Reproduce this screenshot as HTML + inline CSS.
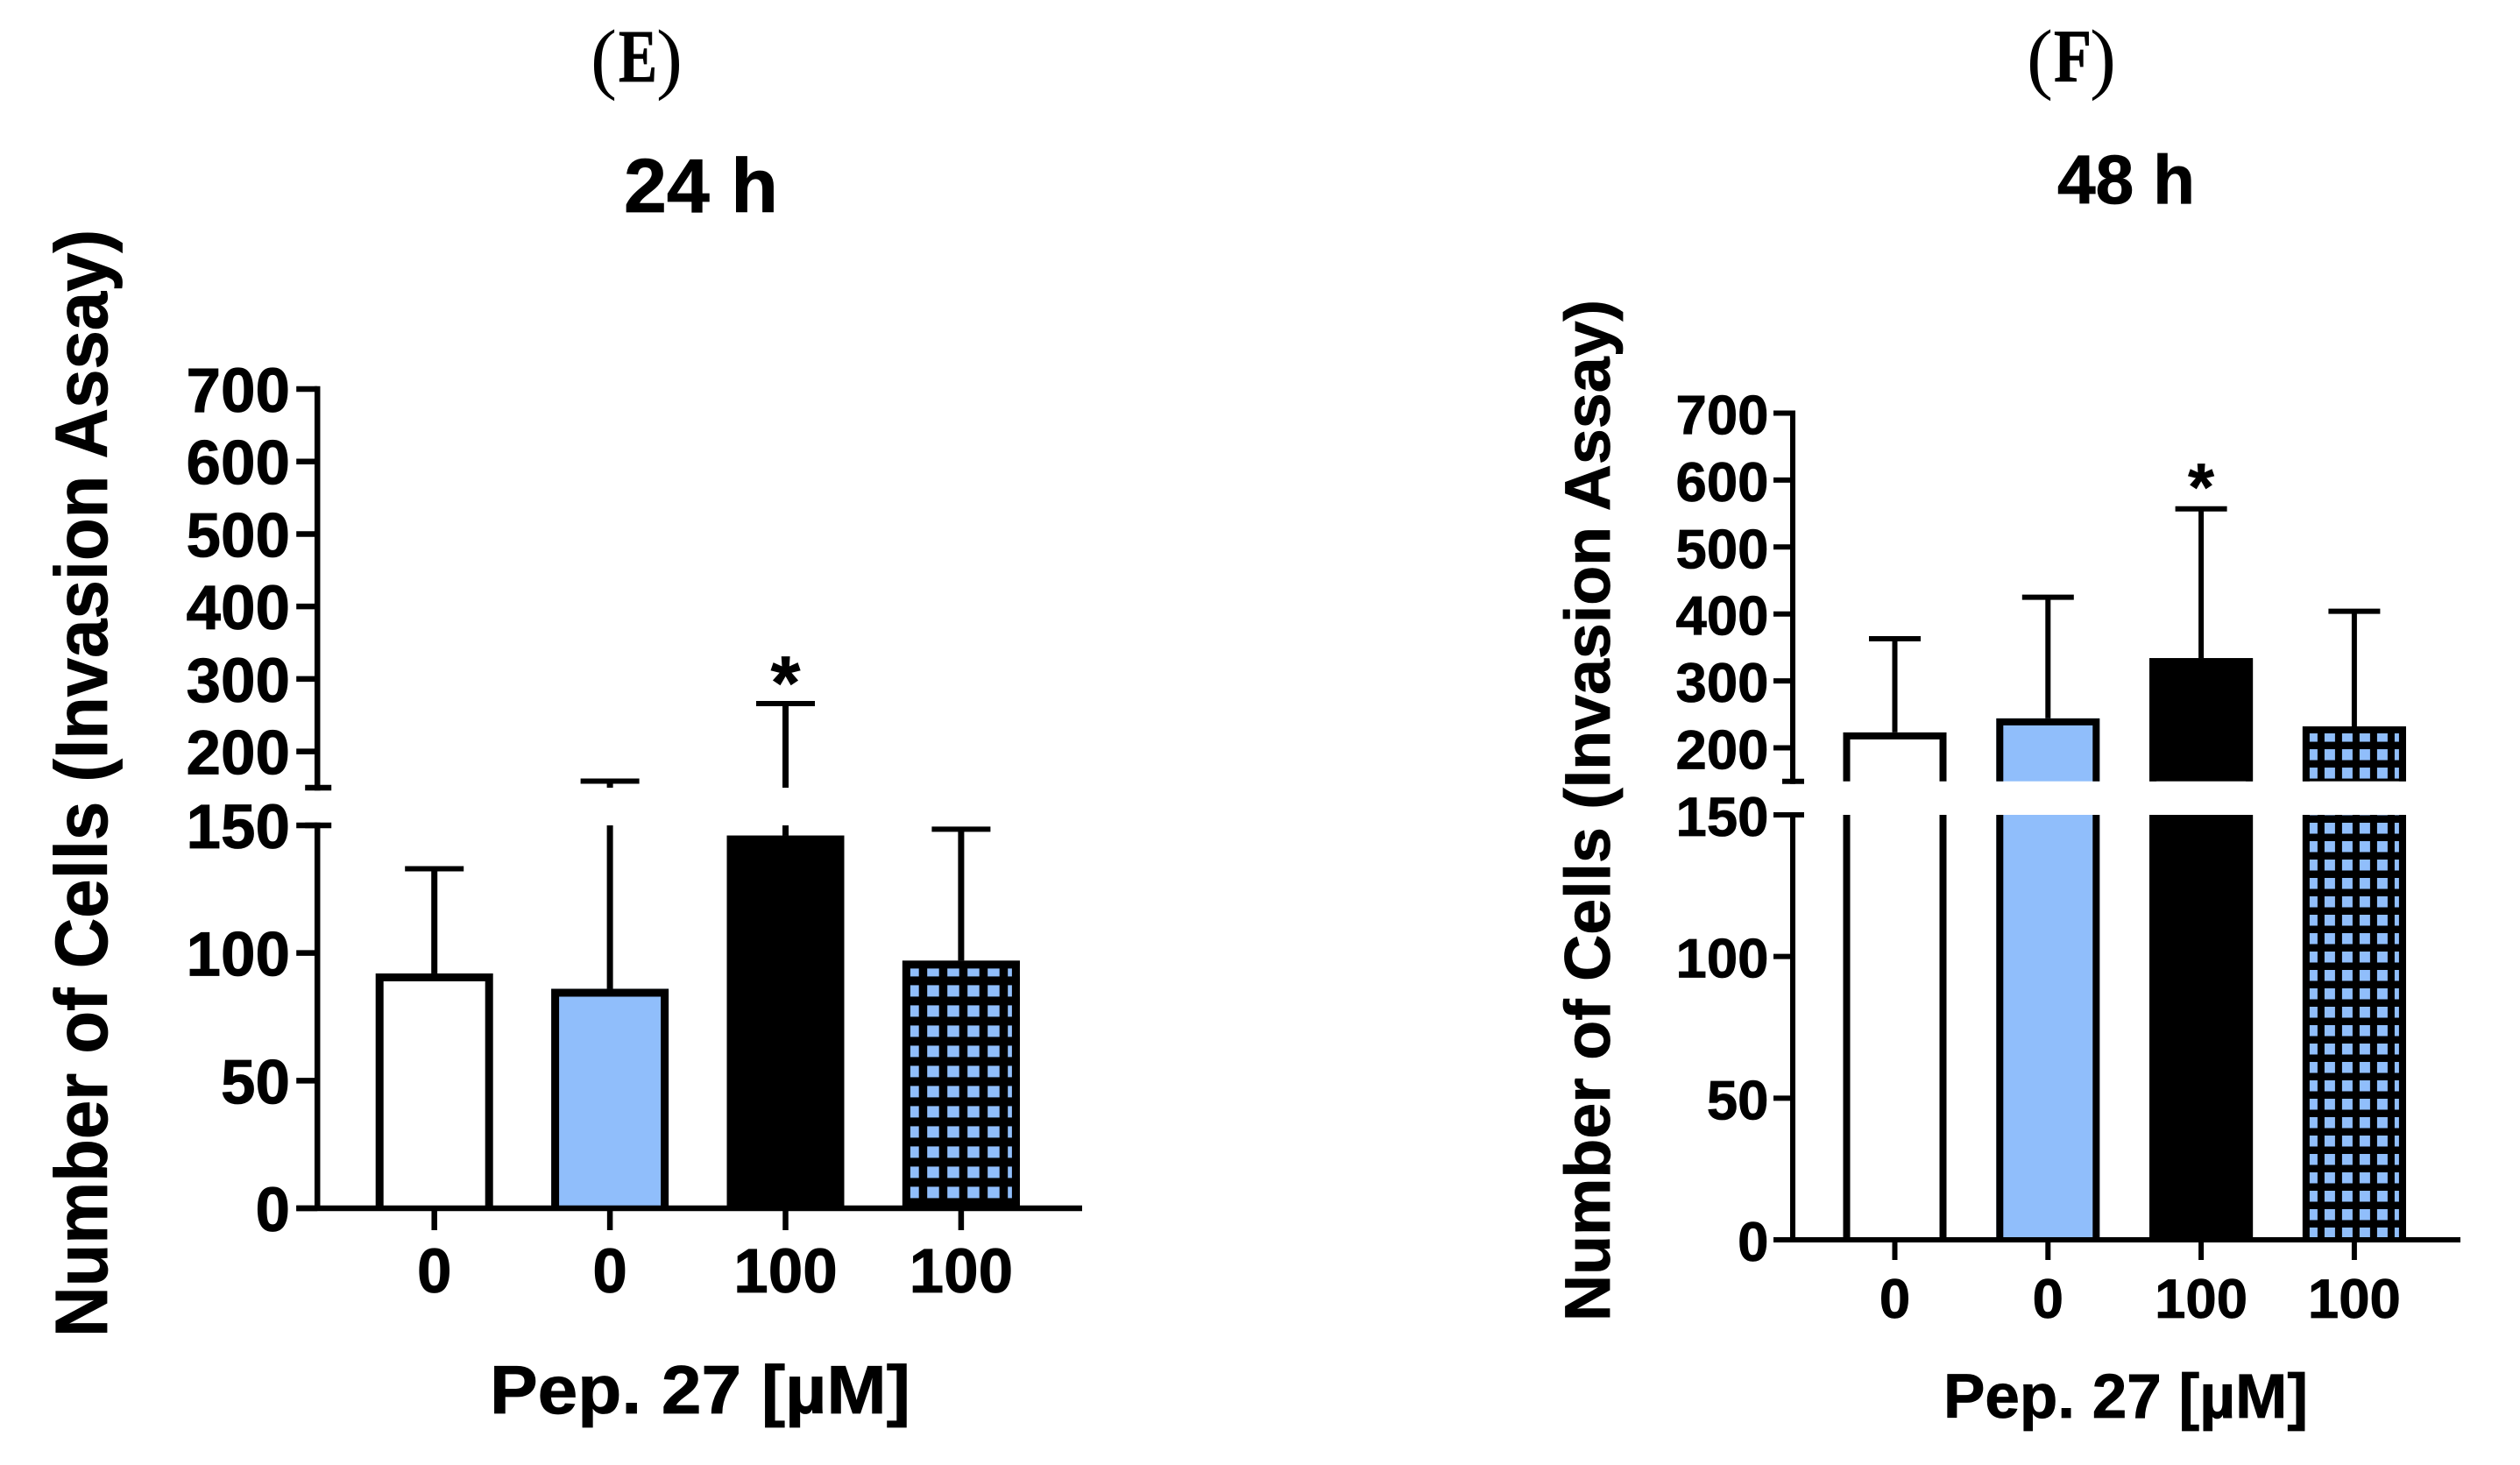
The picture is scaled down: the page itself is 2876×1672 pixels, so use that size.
<!DOCTYPE html>
<html lang="en">
<head>
<meta charset="utf-8">
<title>Invasion assay at 24 h and 48 h</title>
<style>
  html, body { margin: 0; padding: 0; background: #fff; }
  svg { display: block; }
  text { font-family: "Liberation Sans", Arial, sans-serif; font-weight: bold; fill: #000; stroke: #000; stroke-width: 0.8px; }
  .panel-letter { font-family: "Liberation Serif", "Times New Roman", serif; font-weight: bold; stroke-width: 0.8px; }
  .panel-paren { font-family: "Liberation Serif", "Times New Roman", serif; font-weight: normal; stroke: none; }
</style>
</head>
<body>
<svg id="figure" xmlns="http://www.w3.org/2000/svg" width="2876" height="1672" viewBox="0 0 2876 1672">
  <rect x="0" y="0" width="2876" height="1672" fill="#fff"/>

  <g id="panel-e">
    <text class="panel-paren" x="674" y="96" font-size="90">(</text>
    <text class="panel-letter" x="706" y="93" font-size="86" textLength="44" lengthAdjust="spacingAndGlyphs">E</text>
    <text class="panel-paren" x="749" y="96" font-size="90">)</text>
    <text x="712" y="242" font-size="87" textLength="176" lengthAdjust="spacingAndGlyphs">24 h</text>
    <text transform="translate(122,1526) rotate(-90)" font-size="84" textLength="1264" lengthAdjust="spacingAndGlyphs">Number of Cells (Invasion Assay)</text>
    <text x="559" y="1613" font-size="78" textLength="480" lengthAdjust="spacingAndGlyphs">Pep. 27 [µM]</text>
  </g>

  <g id="panel-f">
    <text class="panel-paren" x="2313" y="96" font-size="90">(</text>
    <text class="panel-letter" x="2344" y="93" font-size="86" textLength="43" lengthAdjust="spacingAndGlyphs">F</text>
    <text class="panel-paren" x="2385" y="96" font-size="90">)</text>
    <text x="2348" y="232" font-size="79" textLength="157" lengthAdjust="spacingAndGlyphs">48 h</text>
    <text transform="translate(1837,1508) rotate(-90)" font-size="73" textLength="1166" lengthAdjust="spacingAndGlyphs">Number of Cells (Invasion Assay)</text>
    <text x="2218" y="1618" font-size="71" textLength="416" lengthAdjust="spacingAndGlyphs">Pep. 27 [µM]</text>
  </g>
</svg>

<script>
// Chart data
const categories = ['0', '0', '100', '100'];
const lowerTicks = [0, 50, 100, 150];
const upperTicks = [200, 300, 400, 500, 600, 700];
const means24h = [92, 86, 146, 97];
const errorTops24h = [133, 159, 266, 148.5];
const significant24h = [false, false, true, false];
const means48h = [223, 244, 334, 232];
const errorTops48h = [363, 425, 557, 404];
const significant48h = [false, false, true, false];
const barStyles = ['open', 'blue', 'solid', 'hatched'];
const breakValue = 150;
const axisTop = 700;

const BLUE = '#90BEFB';
const SVGNS = 'http://www.w3.org/2000/svg';

function make(tag, parent, attrs, text) {
  const el = document.createElementNS(SVGNS, tag);
  for (const k in attrs) el.setAttribute(k, attrs[k]);
  if (text !== undefined) el.textContent = text;
  parent.appendChild(el);
  return el;
}

function drawPanel(id, means, errorTops, significant, L) {
  const root = document.getElementById(id);
  const y = function (v) {
    if (v <= breakValue) return L.y0 - (v / breakValue) * (L.y0 - L.lowerTop);
    return L.upperBottom - ((v - breakValue) / (axisTop - breakValue)) * (L.upperBottom - L.y700);
  };
  const x = function (i) { return L.x0 + i * L.step; };

  const defs = make('defs', root, {});
  function hatch(pid, ax, ay) {
    const p = make('pattern', defs, {
      id: pid, patternUnits: 'userSpaceOnUse',
      x: ax, y: ay, width: L.pitchX, height: L.pitchY
    });
    make('rect', p, { x: 0, y: 0, width: L.pitchX, height: L.pitchY, fill: '#000' });
    make('rect', p, { x: 0, y: 0, width: L.cellX, height: L.cellY, fill: BLUE });
    return 'url(#' + pid + ')';
  }

  const bars = make('g', root, {});
  
  

  // Bars and error bars, one per category
  means.forEach(function (mean, i) {
    const left = x(i) - L.barW / 2;
    const right = x(i) + L.barW / 2;
    const b = L.barStroke;
    const style = barStyles[i];
    const g = make('g', bars, {});
    
    

    // error bar: behind the bar, split across the axis break
    const err = make('g', g, { stroke: '#000', 'stroke-width': L.whisker, fill: 'none' });
    
    
    const ey = y(errorTops[i]);
    if (errorTops[i] > breakValue) {
      make('line', err, { x1: x(i), x2: x(i), y1: ey, y2: Math.min(y(Math.max(mean, breakValue)), L.upperBottom) });
      if (mean < breakValue) make('line', err, { x1: x(i), x2: x(i), y1: L.lowerTop, y2: y(mean) });
    } else {
      make('line', err, { x1: x(i), x2: x(i), y1: ey, y2: y(mean) });
    }
    make('line', err, { x1: x(i) - L.capW / 2, x2: x(i) + L.capW / 2, y1: ey, y2: ey, 'stroke-width': L.capStroke });

    // the fill of the bar, below and above the break
    function segment(topPx, botPx, closedTop, part) {
      let fill = '#fff';
      if (style === 'blue') fill = BLUE;
      if (style === 'solid') fill = '#000';
      if (style === 'hatched') {
        const ay = topPx + (closedTop ? L.hatchTop : L.hatchCut);
        fill = hatch(id + '-hatch-' + part, left + L.hatchLeft, ay);
      }
      const r = make('rect', g, { x: left, y: topPx, width: L.barW, height: botPx - topPx, fill: fill });
      
      
      const sides = 'M' + (left + b / 2) + ' ' + botPx + 'V' + (closedTop ? topPx + b / 2 : topPx) +
        (closedTop ? 'H' + (right - b / 2) : 'M' + (right - b / 2) + ' ' + topPx) + 'V' + botPx;
      const outline = make('path', g, { d: sides, fill: 'none', stroke: '#000', 'stroke-width': b });
      
      
    }
    if (mean <= breakValue) {
      segment(y(mean), L.y0, true, 'lower');
    } else {
      segment(L.lowerTop, L.y0, false, 'lower');
      segment(y(mean), L.upperBottom, true, 'upper');
    }

    if (significant[i]) {
      const star = make('text', g, { x: x(i), y: ey + L.starDrop, 'font-size': L.starSize, 'text-anchor': 'middle' }, '*');
      
      
    }
  });

  // Axes
  const axes = make('g', root, { stroke: '#000', 'stroke-width': L.axisW, fill: 'none' });
  
  

  const yUpper = make('line', axes, { x1: L.axisX, x2: L.axisX, y1: y(axisTop) - L.axisW / 2, y2: L.upperBottom + L.axisW / 2 });
  
  

  const yLower = make('line', axes, { x1: L.axisX, x2: L.axisX, y1: L.lowerTop - L.axisW / 2, y2: L.y0 });
  
  

  const xAxis = make('line', axes, { x1: L.axisX - L.tickL, x2: L.xEnd, y1: L.y0, y2: L.y0 });
  
  

  const breakCapUpper = make('line', axes, { x1: L.axisX - L.capL, x2: L.axisX + L.capR, y1: L.upperBottom, y2: L.upperBottom });
  
  

  const breakCapLower = make('line', axes, { x1: L.axisX - L.capL, x2: L.axisX + L.capR, y1: L.lowerTop, y2: L.lowerTop });
  
  

  // Y ticks and labels
  lowerTicks.concat(upperTicks).forEach(function (v) {
    const py = y(v);
    const tick = make('line', axes, { x1: L.axisX - L.tickL, x2: L.axisX, y1: py, y2: py });
    
    
    const label = make('text', root, { x: L.labelRight, y: py + L.labelDrop, 'font-size': L.tickFont, 'text-anchor': 'end' }, String(v));
    
    
  });

  // X ticks and labels
  categories.forEach(function (c, i) {
    const tick = make('line', axes, { x1: x(i), x2: x(i), y1: L.y0, y2: L.xTickEnd });
    
    
    const label = make('text', root, { x: x(i), y: L.xLabelY, 'font-size': L.tickFont, 'text-anchor': 'middle' }, c);
    
    
  });
}

drawPanel('panel-e', means24h, errorTops24h, significant24h, {
  y0: 1379, lowerTop: 942, upperBottom: 899, y700: 444,
  axisX: 362.2, xEnd: 1235, x0: 495.7, step: 200.4, barW: 134, barStroke: 9,
  whisker: 7, capW: 67, capStroke: 6, axisW: 6.5, tickL: 24, capL: 14, capR: 16,
  labelRight: 331, labelDrop: 26, tickFont: 71, xLabelY: 1475, xTickEnd: 1404,
  pitchX: 23, pitchY: 23, cellX: 13.5, cellY: 13, hatchLeft: 5.3, hatchTop: 5, hatchCut: 9,
  starSize: 86, starDrop: 6
});

drawPanel('panel-f', means48h, errorTops48h, significant48h, {
  y0: 1415, lowerTop: 930, upperBottom: 891.7, y700: 471.5,
  axisX: 2046, xEnd: 2808, x0: 2162.5, step: 174.8, barW: 118, barStroke: 8,
  whisker: 6, capW: 59, capStroke: 6, axisW: 6, tickL: 22, capL: 12, capR: 13,
  labelRight: 2018.5, labelDrop: 24, tickFont: 63.5, xLabelY: 1504, xTickEnd: 1438,
  pitchX: 20, pitchY: 21, cellX: 12, cellY: 12.5, hatchLeft: 5, hatchTop: 5, hatchCut: 9,
  starSize: 76, starDrop: 1
});
</script>
</body>
</html>
